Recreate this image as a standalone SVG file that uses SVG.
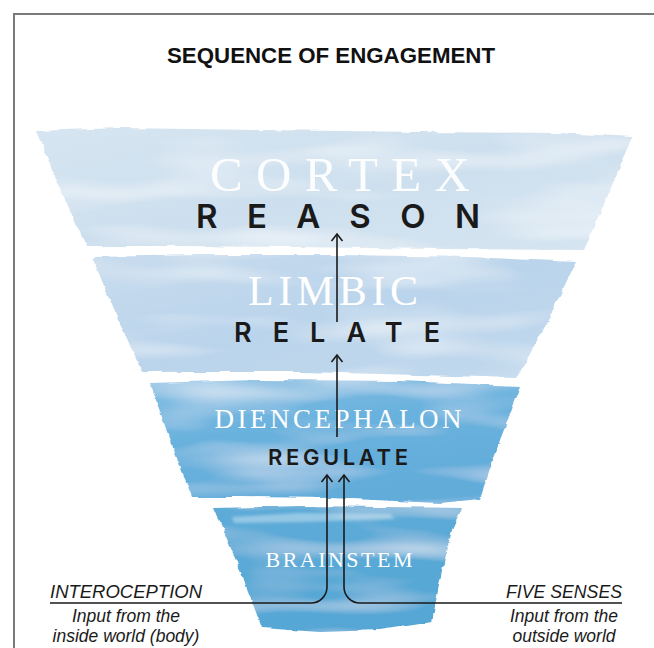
<svg xmlns="http://www.w3.org/2000/svg" width="654" height="648" viewBox="0 0 654 648">
  <defs>
    <style>
      .frame { fill: none; stroke: #7a7a7a; stroke-width: 2; }
      .title { font-family: "Liberation Sans", Arial, sans-serif; font-weight: bold; font-size: 22px; fill: #111; }
      .region { font-family: "Liberation Serif", "DejaVu Serif", serif; fill: #ffffff; }
      .verb { font-family: Inter, "Liberation Sans", sans-serif; font-weight: 600; fill: #1a1a1a; }
      .side { font-family: "Liberation Sans", Arial, sans-serif; font-style: italic; fill: #1a1a1a; }
      .wire { fill: none; stroke: #1a1a1a; stroke-width: 1.6; }
    </style>
    <marker id="head" markerUnits="userSpaceOnUse" markerWidth="14" markerHeight="14" viewBox="0 0 14 14" refX="11" refY="7" orient="auto">
      <path d="M4,1.5 L11,7 L4,12.5" fill="none" stroke="#1a1a1a" stroke-width="1.6"/>
    </marker>
    <linearGradient id="g1" x1="0" y1="0" x2="1" y2="1">
      <stop offset="0" stop-color="#d6e5f1"/>
      <stop offset="0.5" stop-color="#cddfee"/>
      <stop offset="1" stop-color="#d6e5f1"/>
    </linearGradient>
    <linearGradient id="g2" x1="0" y1="0" x2="1" y2="1">
      <stop offset="0" stop-color="#c8dcee"/>
      <stop offset="0.5" stop-color="#bad4eb"/>
      <stop offset="1" stop-color="#c2d9ed"/>
    </linearGradient>
    <linearGradient id="g3" x1="0" y1="0" x2="0.4" y2="1">
      <stop offset="0" stop-color="#86bfe3"/>
      <stop offset="0.45" stop-color="#6ab2de"/>
      <stop offset="1" stop-color="#62acda"/>
    </linearGradient>
    <linearGradient id="g4" x1="0" y1="0" x2="0.3" y2="1">
      <stop offset="0" stop-color="#5eabd8"/>
      <stop offset="1" stop-color="#56a7d5"/>
    </linearGradient>
    <!-- watercolour wash: softly ragged edges plus faint pale streaks -->
    <filter id="wash" x="-5%" y="-15%" width="110%" height="130%">
      <feTurbulence type="fractalNoise" baseFrequency="0.03 0.12" numOctaves="3" seed="4" result="edge"/>
      <feDisplacementMap in="SourceGraphic" in2="edge" scale="4.5" xChannelSelector="R" yChannelSelector="G" result="rough"/>
      <feTurbulence type="fractalNoise" baseFrequency="0.006 0.035" numOctaves="2" seed="9" result="blot"/>
      <feColorMatrix in="blot" type="matrix" values="0 0 0 0 1  0 0 0 0 1  0 0 0 0 1  1.1 0 0 0 -0.5" result="pale"/>
      <feComposite in="pale" in2="rough" operator="in" result="paleIn"/>
      <feMerge>
        <feMergeNode in="rough"/>
        <feMergeNode in="paleIn"/>
      </feMerge>
    </filter>
    <filter id="soft" x="-10%" y="-100%" width="120%" height="300%">
      <feGaussianBlur stdDeviation="1.5"/>
    </filter>
  </defs>

  <rect width="654" height="648" fill="#ffffff"/>
  <path class="frame" d="M14,648 V14 H654"/>

  <text class="title" x="331" y="63" text-anchor="middle" textLength="328" lengthAdjust="spacingAndGlyphs">SEQUENCE OF ENGAGEMENT</text>

  <!-- cortex layer -->
  <g id="cortex">
    <path filter="url(#wash)" fill="url(#g1)" d="M36,131 L120,128 L260,130 L420,132 L560,133 L632,137 L610,190 L584,250 L440,249 L300,247 L180,246 L86,246 L60,188 Z"/>
    <text class="region" x="340" y="191" text-anchor="middle" font-size="49" textLength="260" lengthAdjust="spacing" opacity="0.95">CORTEX</text>
    <text class="verb" x="338" y="228" text-anchor="middle" font-size="33" textLength="284" lengthAdjust="spacing">REASON</text>
  </g>

  <!-- limbic layer -->
  <g id="limbic">
    <path filter="url(#wash)" fill="url(#g2)" d="M92,257 L200,255 L340,255 L470,257 L576,262 L548,320 L517,378 L420,375 L300,372 L142,372 L115,312 Z"/>
    <text class="region" x="333" y="305" text-anchor="middle" font-size="42" textLength="170" lengthAdjust="spacing">LIMBIC</text>
    <text class="verb" x="337" y="342" text-anchor="middle" font-size="27" textLength="206" lengthAdjust="spacing">RELATE</text>
  </g>

  <!-- diencephalon layer -->
  <g id="diencephalon">
    <path filter="url(#wash)" fill="url(#g3)" d="M150,383 L260,380 L400,381 L521,386 L500,440 L480,499 L440,503 L330,498 L240,497 L192,497 L170,440 Z"/>
    <text class="region" x="338" y="428" text-anchor="middle" font-size="27" textLength="247" lengthAdjust="spacing">DIENCEPHALON</text>
    <text class="verb" x="338" y="465" text-anchor="middle" font-size="22" textLength="140" lengthAdjust="spacing">REGULATE</text>
  </g>

  <!-- brainstem layer -->
  <g id="brainstem">
    <path filter="url(#wash)" fill="url(#g4)" d="M214,508 L300,506 L380,507 L462,508 L452,530 L440,580 L432,622 L380,630 L320,632 L262,628 L240,570 Z"/>
    <path filter="url(#soft)" fill="#ffffff" opacity="0.35" d="M232,517 L300,513 L390,514 L395,519 L300,522 L234,523 Z"/>
    <text class="region" x="339" y="567" text-anchor="middle" font-size="22" textLength="147" lengthAdjust="spacing">BRAINSTEM</text>
  </g>

  <!-- side labels -->
  <g id="interoception">
    <text class="side" x="50" y="598" font-size="18" textLength="152" lengthAdjust="spacingAndGlyphs">INTEROCEPTION</text>
    <text class="side" x="126" y="622" text-anchor="middle" font-size="17.5">Input from the</text>
    <text class="side" x="126" y="642" text-anchor="middle" font-size="17.5">inside world (body)</text>
  </g>
  <g id="five-senses">
    <text class="side" x="622" y="598" text-anchor="end" font-size="18" textLength="116" lengthAdjust="spacingAndGlyphs">FIVE SENSES</text>
    <text class="side" x="564" y="622" text-anchor="middle" font-size="17.5">Input from the</text>
    <text class="side" x="564" y="642" text-anchor="middle" font-size="17.5">outside world</text>
  </g>

  <!-- connectors -->
  <g id="connectors">
    <path class="wire" marker-end="url(#head)" d="M337,322 V234"/>
    <path class="wire" marker-end="url(#head)" d="M337,437 V355"/>
    <path class="wire" marker-end="url(#head)" d="M50,603 H311 A16,16 0 0 0 327,587 V475"/>
    <path class="wire" marker-end="url(#head)" d="M622,603 H360 A16,16 0 0 1 344,587 V475"/>
  </g>
</svg>
